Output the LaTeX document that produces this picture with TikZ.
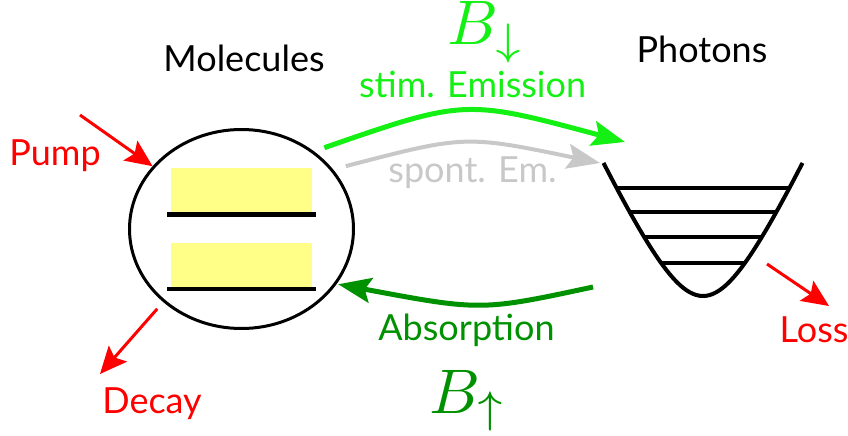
\documentclass[tikz,border=0pt]{standalone}
\usepackage{fontspec}
\setmainfont{Lato}
\usetikzlibrary{arrows.meta,shapes.geometric}
\definecolor{figred}{RGB}{255,0,0}
\definecolor{figlime}{RGB}{20,240,20}
\definecolor{figdark}{RGB}{0,145,0}
\definecolor{figgrey}{RGB}{200,200,200}
\definecolor{figyel}{RGB}{255,255,136}
\tikzset{
  fig/.style={x=1pt,y=-1pt},
  lbl/.style={inner sep=0pt,anchor=base,font=\fontsize{36}{40}\selectfont},
  rate/.style={inner sep=0pt,anchor=base west,scale=6.3},
  ln/.style={-{Stealth[length=27pt,width=24pt,inset=5pt]},line width=3pt,figred},
  proc/.style={-{Stealth[length=33pt,width=25pt,inset=6pt]},line width=4.5pt},
  lvl/.style={line width=4.5pt},
}

\begin{document}
\begin{tikzpicture}[fig,
  trap/.style={line width=4pt,line join=round}]
\useasboundingbox (0,0) rectangle (848,436);

% molecules
\node[draw,ellipse,line width=3pt,minimum width=224pt,minimum height=199pt,inner sep=0pt] (mol) at (241.5,229) {};
\fill[figyel] (171,168) rectangle (312,212);
\fill[figyel] (171,243) rectangle (312,287);
\draw[lvl] (167,214.5) -- (316,214.5);
\draw[lvl] (167,289) -- (316,289);
\node[lbl] (moltxt) at (244,71) {Molecules};

% photon trap
\draw[trap] plot[smooth,domain=-99.5:99.5,samples=61] ({703+\x},{296-2.168*(sqrt(\x*\x+2500)-50)});
\begin{scope}
  \clip plot[smooth,domain=-99.5:99.5,samples=61] ({703+\x},{296-2.168*(sqrt(\x*\x+2500)-50)});
  \foreach \y in {188,212,237,263}
    \draw[lvl] (590,\y) -- (815,\y);
\end{scope}
\node[lbl] (phtxt) at (702,63) {Photons};

\coordinate (stimend) at (625,142);
\coordinate (spontend) at (600,163);
\coordinate (absstart) at (593,287);
\coordinate (pumpin) at (80,115);
\coordinate (decayend) at (100,374);
\coordinate (lossstart) at (767,264);
\coordinate (lossend) at (829,306);

% pump, decay, loss
\node[lbl,text=figred] (pump) at (55,165) {Pump};
\draw[ln] (pumpin) -- (mol);
\node[lbl,text=figred] (decay) at (152,413) {Decay};
\draw[ln,shorten <=9pt] (mol.-137) -- (decayend);
\node[lbl,text=figred] (loss) at (814,342) {Loss};
\draw[ln] (lossstart) -- (lossend);

% emission and absorption
\draw[proc,figlime,line width=5pt,shorten <=11pt] (mol.47) .. controls (465,99) .. (stimend);
\node[lbl,text=figlime] (stim) at (472.5,97) {stim. Emission};
\node[rate,text=figlime] (bdown) at (446,45) {$B_\downarrow$};

\draw[proc,figgrey,line width=4pt,shorten <=13pt] (mol.33) .. controls (465,135) .. (spontend);
\node[lbl,text=figgrey] (spont) at (472.5,182) {spont. Em.};

\draw[proc,figdark,line width=5pt,shorten >=1.5pt] (absstart) .. controls (481,311) .. (mol.-30);
\node[lbl,text=figdark] (abs) at (466.5,340) {Absorption};
\node[rate,text=figdark] (bup) at (428,413) {$B_\uparrow$};

\end{tikzpicture}
\end{document}
